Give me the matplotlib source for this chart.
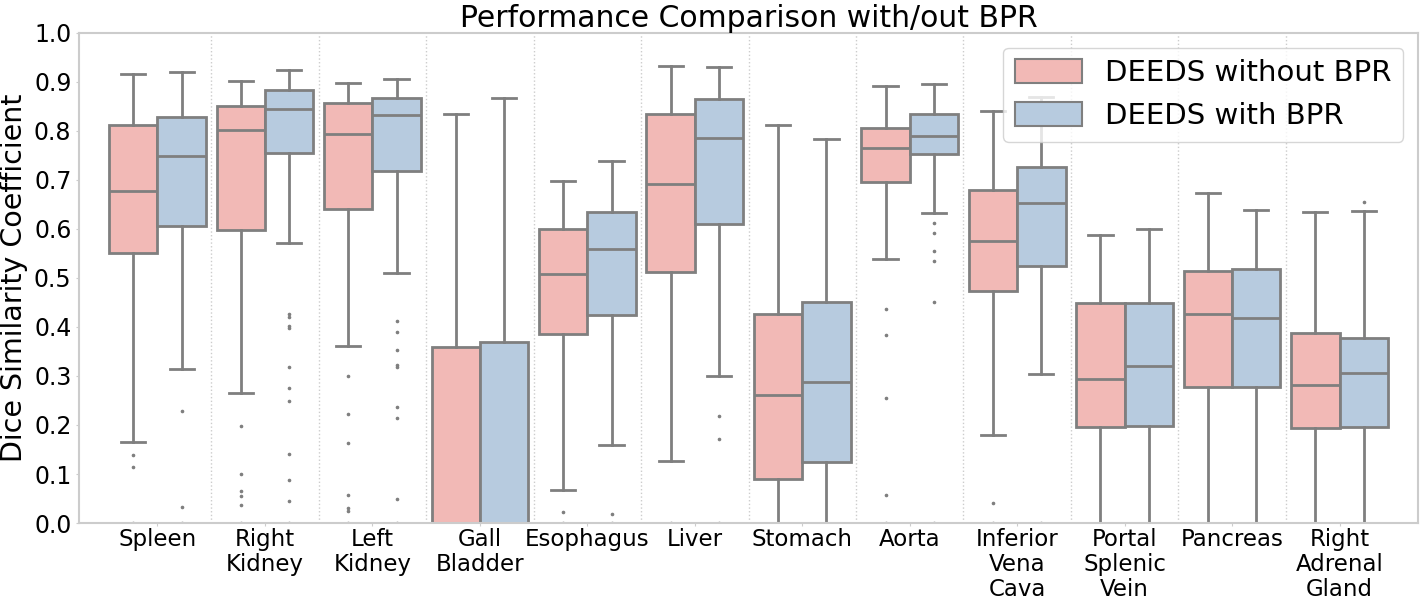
import numpy as np
import matplotlib
matplotlib.use("Agg")
import matplotlib.pyplot as plt
from matplotlib.patches import Patch


#### 00 data
organs = ["Spleen", "Right\nKidney", "Left\nKidney", "Gall\nBladder", "Esophagus", "Liver",
          "Stomach", "Aorta", "Inferior\nVena\nCava", "Portal\nSplenic\nVein", "Pancreas",
          "Right\nAdrenal\nGland"]
methods = ["DEEDS without BPR", "DEEDS with BPR"]

# box statistics for DEEDS without BPR
wo_low = [0.166, 0.266, 0.362, 0.0, 0.067, 0.127, 0.0, 0.538, 0.180, 0.0, 0.0, 0.0]
wo_q1 = [0.552, 0.597, 0.640, 0.0, 0.386, 0.512, 0.090, 0.696, 0.474, 0.196, 0.278, 0.193]
wo_med = [0.677, 0.803, 0.793, 0.0, 0.509, 0.691, 0.262, 0.765, 0.575, 0.294, 0.427, 0.282]
wo_q3 = [0.812, 0.851, 0.857, 0.359, 0.599, 0.834, 0.427, 0.806, 0.679, 0.449, 0.515, 0.388]
wo_high = [0.916, 0.902, 0.898, 0.834, 0.697, 0.932, 0.813, 0.892, 0.840, 0.587, 0.673, 0.634]
wo_fliers = [
    [0.139, 0.115, 0.0],
    [0.197, 0.099, 0.065, 0.055, 0.037, 0.0],
    [0.299, 0.223, 0.164, 0.057, 0.031, 0.025, 0.0],
    [],
    [0.023, 0.0],
    [0.0],
    [],
    [0.436, 0.383, 0.256, 0.057, 0.0],
    [0.040, 0.0],
    [],
    [],
    [],
]

# box statistics for DEEDS with BPR
w_low = [0.314, 0.571, 0.510, 0.0, 0.160, 0.300, 0.0, 0.632, 0.305, 0.0, 0.0, 0.0]
w_q1 = [0.607, 0.756, 0.718, 0.0, 0.425, 0.611, 0.125, 0.754, 0.524, 0.198, 0.277, 0.195]
w_med = [0.749, 0.845, 0.832, 0.0, 0.560, 0.785, 0.288, 0.789, 0.654, 0.321, 0.419, 0.307]
w_q3 = [0.828, 0.883, 0.867, 0.370, 0.634, 0.866, 0.452, 0.834, 0.727, 0.449, 0.519, 0.378]
w_high = [0.920, 0.924, 0.906, 0.867, 0.738, 0.930, 0.783, 0.896, 0.870, 0.599, 0.638, 0.636]
w_fliers = [
    [0.229, 0.033, 0.0],
    [0.427, 0.421, 0.403, 0.397, 0.319, 0.276, 0.248, 0.141, 0.088, 0.045, 0.0],
    [0.412, 0.389, 0.354, 0.323, 0.319, 0.237, 0.215, 0.048, 0.0],
    [],
    [0.018, 0.0],
    [0.219, 0.172, 0.0],
    [],
    [0.612, 0.591, 0.556, 0.534, 0.450, 0.0],
    [0.0],
    [],
    [],
    [0.655],
]


def make_stats(low, q1, med, q3, high, fliers):
    return [dict(whislo = a, q1 = b, med = c, q3 = d, whishi = e, fliers = f)
            for a, b, c, d, e, f in zip(low, q1, med, q3, high, fliers)]


stats_wo = make_stats(wo_low, wo_q1, wo_med, wo_q3, wo_high, wo_fliers)
stats_w = make_stats(w_low, w_q1, w_med, w_q3, w_high, w_fliers)


#### 01 plot
pink = "#f2b9b6"
blue = "#b7cbdf"
edge = "#7f7f7f"

fig, ax = plt.subplots(figsize = (14.24, 6.04), dpi = 100)
fig.subplots_adjust(left = 0.0555, right = 0.9958, top = 0.9454, bottom = 0.1341)

pos = np.arange(len(organs))
for stats, offset, color in [(stats_wo, -0.225, pink), (stats_w, 0.225, blue)]:
    ax.bxp(stats, positions = pos + offset, widths = 0.45, patch_artist = True,
           boxprops = dict(facecolor = color, edgecolor = edge, linewidth = 2),
           medianprops = dict(color = edge, linewidth = 2),
           whiskerprops = dict(color = edge, linewidth = 2),
           capprops = dict(color = edge, linewidth = 2),
           flierprops = dict(marker = "o", markersize = 1.6, markerfacecolor = edge,
                             markeredgecolor = edge))

# dotted separators between organs
for x in pos[:-1] + 0.5:
    ax.axvline(x, color = "#cccccc", linestyle = ":", linewidth = 1, zorder = 0)

ax.set_xlim(-0.73, len(organs) - 1 + 0.73)
ax.set_ylim(0, 1.0)
ax.set_yticks(np.arange(0, 1.01, 0.1))
ax.set_yticklabels([f"{v:.1f}" for v in np.arange(0, 1.01, 0.1)], fontsize = 17)
ax.set_xticks(pos)
ax.set_xticklabels(organs, fontsize = 16.5, linespacing = 1.12)
ax.tick_params(axis = "both", length = 2, color = "#cccccc")
ax.tick_params(axis = "x", pad = 1.5)
for s in ax.spines.values():
    s.set_color("#cccccc")
    s.set_linewidth(1.5)

ax.set_ylabel("Dice Similarity Coefficient", fontsize = 20.5)
ax.set_title("Performance Comparison with/out BPR", fontsize = 21.5, pad = 4)

handles = [Patch(facecolor = pink, edgecolor = edge, linewidth = 1.5),
           Patch(facecolor = blue, edgecolor = edge, linewidth = 1.5)]
ax.legend(handles, methods, loc = "upper right", fontsize = 21, handlelength = 2.3,
          handleheight = 0.9, borderaxespad = 0.5)

#### 02 save
plt.savefig("out.png", dpi = 100)
